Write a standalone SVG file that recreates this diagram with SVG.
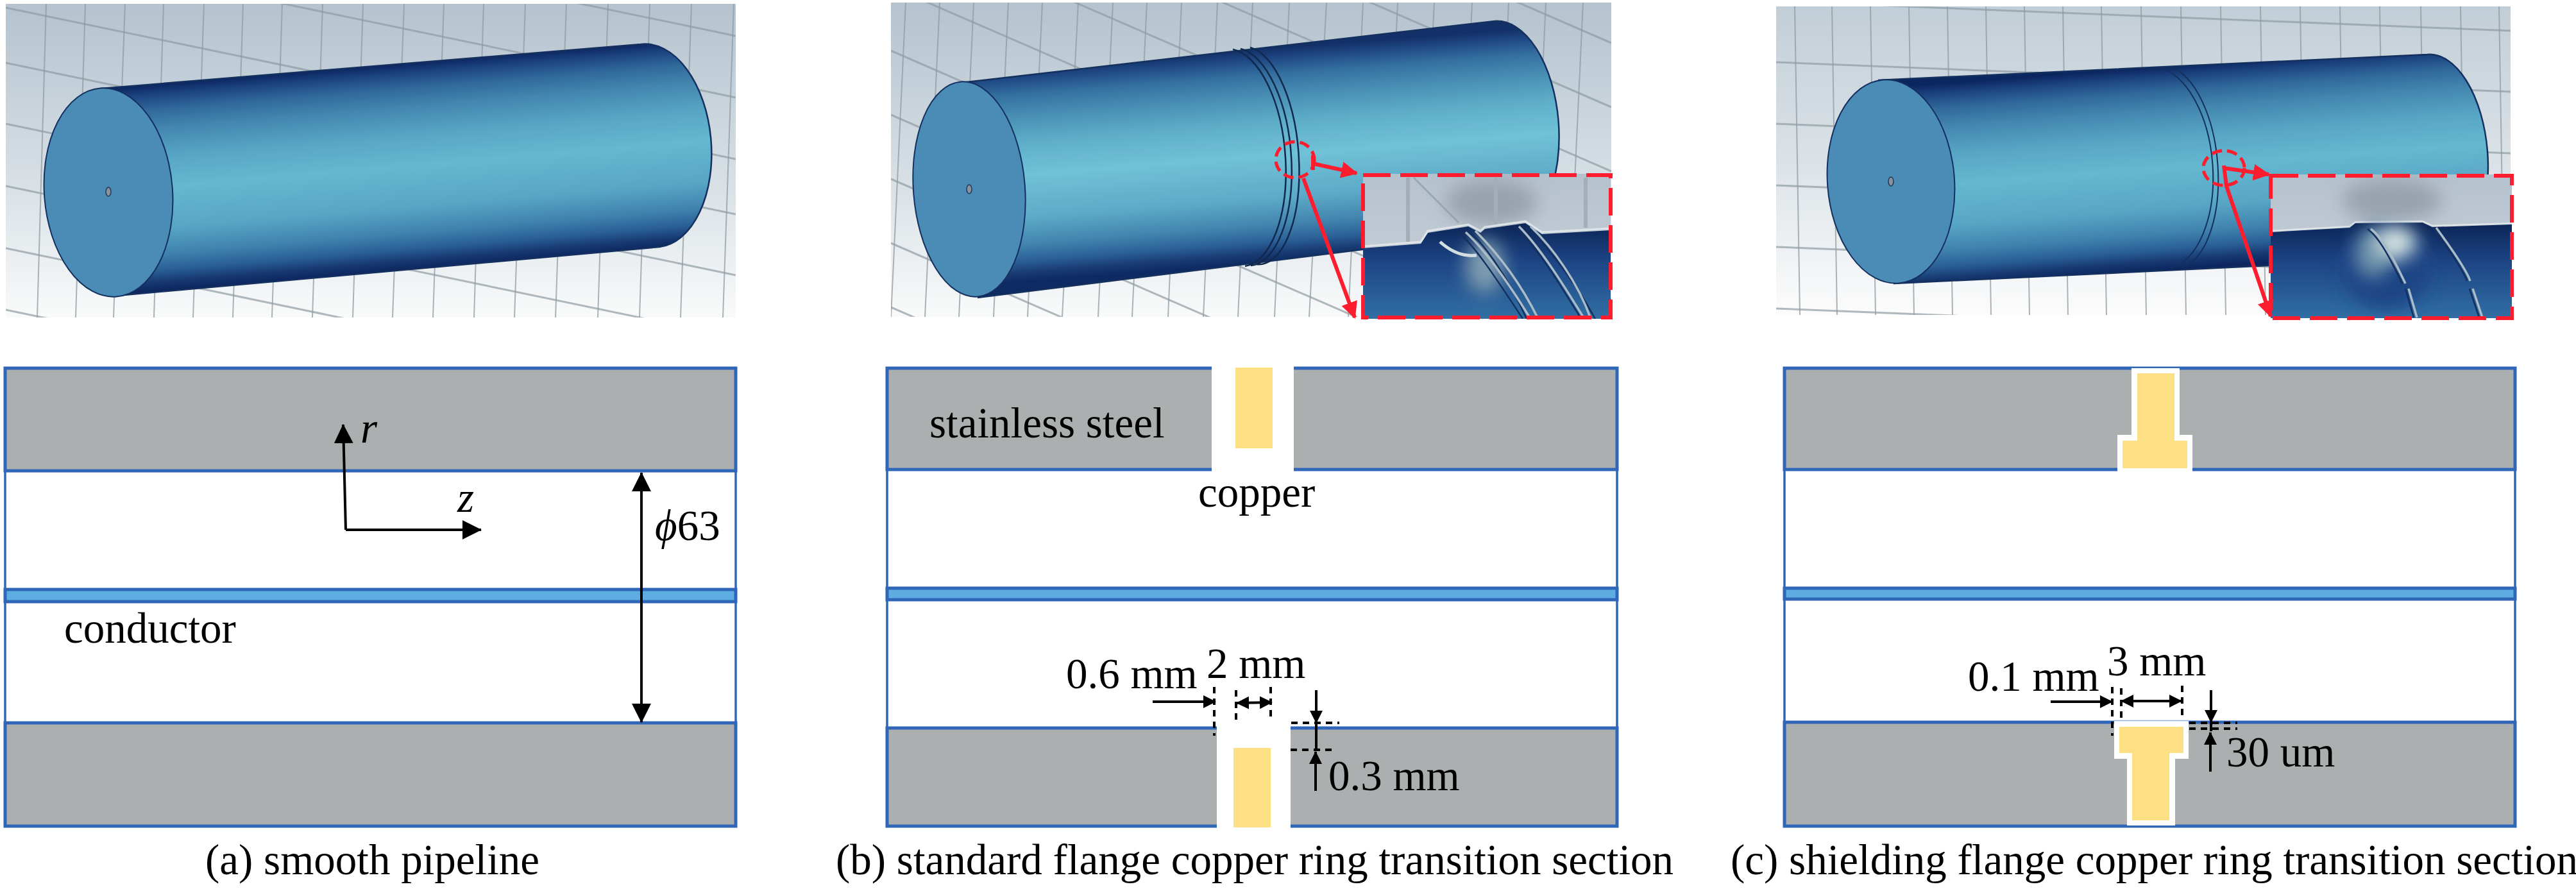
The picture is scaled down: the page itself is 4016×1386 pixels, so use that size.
<svg xmlns="http://www.w3.org/2000/svg" width="4016" height="1386" viewBox="0 0 4016 1386">
<style>
.t{font-family:"Liberation Serif","Times New Roman",serif;font-size:67px;fill:#000}
.i{font-style:italic}
.gv{fill:none;stroke:#8f9ba3;stroke-width:2;opacity:.75}
.gs{fill:none;stroke:#8f9ba3;stroke-width:3;opacity:.7}
.face{fill:#4a8cb6;stroke:#14305f;stroke-width:2}
.end{fill:none;stroke:#14305f;stroke-width:2}
.ring{fill:none;stroke:#12294f;stroke-width:2.5}
.hole{fill:#8a929a;stroke:#1f3a5f;stroke-width:1.5}
.rd{fill:none;stroke:#fd1d2e;stroke-width:6;stroke-dasharray:43 15}
.re{fill:none;stroke:#fd1d2e;stroke-width:5;stroke-dasharray:16 8}
.ra{fill:none;stroke:#fd1d2e;stroke-width:6}
.steel{fill:#abafb0;stroke:#2f66b8;stroke-width:5}
.vac{fill:#fff;stroke:#2f66b8;stroke-width:3.5}
.cond{fill:#5dade2;stroke:#2f66b8;stroke-width:5}
.gap{fill:#fff}
.cu{fill:#fce083}
.dim{fill:none;stroke:#000;stroke-width:4}
.dsh{fill:none;stroke:#000;stroke-width:4;stroke-dasharray:10 8}
.ln{fill:none;stroke:#000;stroke-width:4}
.sl{fill:none;stroke:#a9bcc8;stroke-width:3.5}
.sd{fill:none;stroke:#14305f;stroke-width:2.5}
</style>
<defs>
<marker id="ah" markerUnits="userSpaceOnUse" markerWidth="32" markerHeight="32" refX="29" refY="15" orient="auto-start-reverse"><path d="M0,0L30,15L0,30Z" fill="#000"/></marker>
<marker id="as" markerUnits="userSpaceOnUse" markerWidth="22" markerHeight="22" refX="19" refY="10" orient="auto-start-reverse"><path d="M0,0L20,10L0,20Z" fill="#000"/></marker>
<marker id="ar" markerUnits="userSpaceOnUse" markerWidth="28" markerHeight="28" refX="24" refY="13" orient="auto"><path d="M0,0L26,13L0,26Z" fill="#fd1d2e"/></marker>
<linearGradient id="bgA" x1="0" y1="0" x2="0" y2="1"><stop offset="0" stop-color="#b4c3cf"/><stop offset=".5" stop-color="#d3dce2"/><stop offset="1" stop-color="#f9fafa"/></linearGradient>
<linearGradient id="bgC" x1="0" y1="0" x2="0" y2="1"><stop offset="0" stop-color="#c2ced7"/><stop offset=".5" stop-color="#dbe2e7"/><stop offset="1" stop-color="#fcfcfc"/></linearGradient>
<linearGradient id="cylA" gradientUnits="userSpaceOnUse" x1="578" y1="103" x2="605" y2="423"><stop offset="0" stop-color="#0c2660"/><stop offset=".05" stop-color="#1c4480"/><stop offset=".12" stop-color="#30689a"/><stop offset=".22" stop-color="#4488b0"/><stop offset=".35" stop-color="#57a5c5"/><stop offset=".5" stop-color="#65b8d0"/><stop offset=".7" stop-color="#57a5c5"/><stop offset=".82" stop-color="#4083ae"/><stop offset=".9" stop-color="#2a5f96"/><stop offset=".96" stop-color="#16376f"/><stop offset="1" stop-color="#0e2660"/></linearGradient>
<linearGradient id="cylB" gradientUnits="userSpaceOnUse" x1="1914" y1="81" x2="1940" y2="412"><stop offset="0" stop-color="#143068"/><stop offset=".05" stop-color="#204a85"/><stop offset=".12" stop-color="#346f9f"/><stop offset=".22" stop-color="#488eb4"/><stop offset=".35" stop-color="#5eaec9"/><stop offset=".5" stop-color="#70c2d7"/><stop offset=".7" stop-color="#5caac8"/><stop offset=".82" stop-color="#4386af"/><stop offset=".9" stop-color="#2c6198"/><stop offset=".96" stop-color="#183a72"/><stop offset="1" stop-color="#0f2a63"/></linearGradient>
<linearGradient id="cylC" gradientUnits="userSpaceOnUse" x1="3356" y1="105" x2="3380" y2="420"><stop offset="0" stop-color="#0c2660"/><stop offset=".05" stop-color="#1c4480"/><stop offset=".12" stop-color="#30689a"/><stop offset=".22" stop-color="#4488b0"/><stop offset=".35" stop-color="#57a5c5"/><stop offset=".5" stop-color="#65b8d0"/><stop offset=".7" stop-color="#57a5c5"/><stop offset=".82" stop-color="#4083ae"/><stop offset=".9" stop-color="#2a5f96"/><stop offset=".96" stop-color="#16376f"/><stop offset="1" stop-color="#0e2660"/></linearGradient>
<linearGradient id="insT" x1="0" y1="0" x2="0" y2="1"><stop offset="0" stop-color="#b5c1cd"/><stop offset="1" stop-color="#cdd5dc"/></linearGradient>
<linearGradient id="insL" gradientUnits="userSpaceOnUse" x1="0" y1="350" x2="0" y2="495"><stop offset="0" stop-color="#0d2658"/><stop offset=".4" stop-color="#1d4585"/><stop offset="1" stop-color="#316ea3"/></linearGradient>
<clipPath id="cA"><rect x="9" y="6" width="1138" height="489"/></clipPath>
<clipPath id="cB"><rect x="1389" y="4" width="1123" height="490"/></clipPath>
<clipPath id="cC"><rect x="2769" y="10" width="1145" height="481"/></clipPath>
<clipPath id="iB"><rect x="2125" y="271" width="386" height="226"/></clipPath>
<clipPath id="iC"><rect x="3540" y="272" width="376" height="224"/></clipPath>
<filter id="b8" x="-30%" y="-30%" width="160%" height="160%"><feGaussianBlur stdDeviation="8"/></filter>
<filter id="b14" x="-40%" y="-40%" width="180%" height="180%"><feGaussianBlur stdDeviation="14"/></filter>
</defs>

<g id="model-a">
<rect x="9" y="6" width="1138" height="489" fill="url(#bgA)"/>
<g clip-path="url(#cA)">
<path class="gs" d="M9,-180L1147,56M9,-84L1147,152M9,12L1147,248M9,98L1147,334M9,193L1147,429M9,290L1147,526M9,387L1147,623M9,483L1147,719"/>
<path class="gv" d="M72,6L58,495M133,6L118,495M195,6L177,495M255,6L240,495M318,6L301,495M379,6L363,495M440,6L424,495M503,6L487,495M566,6L550,495M630,6L612,495M692,6L675,495M754,6L739,495M819,6L802,495M883,6L866,495M948,6L932,495M1013,6L997,495M1078,6L1061,495M1144,6L1127,495"/>
</g>
<path d="M157,138L999,69A95,158,-4.4,0,1,1028,385L182,461Z" fill="url(#cylA)"/>
<path class="sd" d="M157,138L999,69A95,158,-4.4,0,1,1028,385L182,461"/>
<ellipse class="face" cx="169" cy="300" rx="100" ry="163" transform="rotate(-4.4 169 300)"/>
<ellipse class="hole" cx="169" cy="299" rx="4" ry="7"/>
</g>

<g id="model-b">
<rect x="1389" y="4" width="1123" height="490" fill="url(#bgA)"/>
<g clip-path="url(#cB)">
<path class="gs" d="M1389,-421L2512,67M1389,-321L2512,167M1389,-221L2512,267M1389,-121L2512,367M1389,-21L2512,467M1389,79L2512,567M1389,179L2512,667M1389,279L2512,767M1389,379L2512,867M1389,479L2512,967"/>
<path class="gv" d="M1412,4L1389,494M1465,4L1442,494M1518,4L1495,494M1572,4L1549,494M1625,4L1602,494M1681,4L1656,494M1735,4L1712,494M1788,4L1765,494M1842,4L1821,494M1898,4L1876,494M1953,4L1930,494M2010,4L1987,494M2068,4L2041,494M2125,4L2102,494M2179,4L2156,494M2236,4L2213,494M2295,4L2272,494M2352,4L2329,494M2410,4L2387,494M2468,4L2445,494"/>
</g>
<path d="M1498,129L2330,33A87,164,-4.4,0,1,2356,360L1524,464Z" fill="url(#cylB)"/>
<path class="sd" d="M1498,129L2330,33A87,164,-4.4,0,1,2356,360L1524,464"/>
<ellipse class="face" cx="1511" cy="295" rx="87" ry="168" transform="rotate(-4.4 1511 295)"/>
<path class="ring" d="M1922,77A79,170,-4.4,0,1,1941,415M1934,76A77,170,-4.4,0,1,1950,414M1949,74A73,170,-4.4,0,1,1959,412"/>
<ellipse class="hole" cx="1511" cy="295" rx="4" ry="7"/>
<g id="inset-b" clip-path="url(#iB)">
<rect x="2125" y="271" width="386" height="226" fill="url(#insT)"/>
<ellipse cx="2325" cy="315" rx="72" ry="36" fill="#98a3ae" filter="url(#b14)"/>
<path d="M2195,277V377M2332,277V350M2472,277V355" fill="none" stroke="#a5aeb7" stroke-width="6"/>
<path class="gs" d="M2204,277L2274,347"/>
<path d="M2125,387L2215,380L2226,363L2289,353L2308,363L2315,357L2378,348L2404,365L2511,359V497H2125Z" fill="url(#insL)"/>
<path d="M2125,384L2215,377L2226,360L2289,350L2308,360L2315,354L2378,345L2404,362L2511,356" fill="none" stroke="#dfe4e8" stroke-width="3"/>
<ellipse cx="2315" cy="415" rx="30" ry="42" fill="#7f9db0" filter="url(#b14)"/>
<path d="M2245,377C2265,395 2285,400 2302,398" fill="none" stroke="#d3dee0" stroke-width="5"/>
<path class="sd" d="M2275,363C2300,385 2330,430 2374,497M2290,362C2310,375 2350,430 2380,497M2360,353C2390,375 2430,440 2465,497M2378,353C2405,375 2450,430 2487,497"/>
<path class="sl" d="M2285,362C2310,385 2345,430 2386,497M2300,360C2325,385 2365,430 2398,497M2368,353C2400,385 2435,440 2470,497M2386,353C2420,385 2460,440 2480,497"/>
</g>
<rect class="rd" x="2125" y="273" width="386" height="222"/>
<ellipse class="re" cx="2019" cy="249" rx="30" ry="28"/>
<path class="ra" d="M2047,242V265M2047,255L2115,270" marker-end="url(#ar)"/>
<path class="ra" d="M2032,278L2112,495" marker-end="url(#ar)"/>
</g>

<g id="model-c">
<rect x="2769" y="10" width="1145" height="481" fill="url(#bgC)"/>
<g clip-path="url(#cC)">
<path class="gs" d="M2769,2L3914,48M2769,97L3914,143M2769,193L3914,239M2769,289L3914,335M2769,385L3914,431M2769,481L3914,527"/>
<path class="gv" d="M2798,10L2806,491M2856,10L2864,491M2916,10L2924,491M2976,10L2984,491M3036,10L3044,491M3096,10L3104,491M3156,10L3164,491M3216,10L3224,491M3276,10L3284,491M3338,10L3346,491M3400,10L3408,491M3462,10L3470,491M3524,10L3532,491M3586,10L3594,491M3648,10L3656,491M3710,10L3718,491M3774,10L3782,491M3836,10L3844,491M3896,10L3904,491"/>
</g>
<path d="M2928,125L3784,85A81,158,-4.4,0,1,3810,401L2952,442Z" fill="url(#cylC)"/>
<path class="sd" d="M2928,125L3784,85A81,158,-4.4,0,1,3810,401L2952,442"/>
<ellipse class="face" cx="2948" cy="283" rx="99" ry="159" transform="rotate(-4.4 2948 283)"/>
<path class="end" d="M3364,105A86,158,-4.4,0,1,3384,418M3384,105A76,158,-4.4,0,1,3404,416"/>
<ellipse class="hole" cx="2948" cy="283" rx="4" ry="7"/>
<g id="inset-c" clip-path="url(#iC)">
<rect x="3540" y="272" width="376" height="224" fill="url(#insT)"/>
<ellipse cx="3729" cy="312" rx="78" ry="34" fill="#98a3ae" filter="url(#b14)"/>
<path d="M3540,362L3663,355L3672,348L3777,347L3792,354L3916,350V496H3540Z" fill="url(#insL)"/>
<path d="M3540,360L3663,353L3672,346L3777,345L3792,352L3916,348" fill="none" stroke="#dfe4e8" stroke-width="2.5"/>
<ellipse cx="3720" cy="420" rx="68" ry="62" fill="#1c4585" filter="url(#b14)"/>
<ellipse cx="3700" cy="395" rx="28" ry="38" fill="#6f93aa" filter="url(#b14)"/>
<ellipse cx="3735" cy="378" rx="32" ry="26" fill="#d2e2e0" filter="url(#b14)"/>
<path class="sd" d="M3691,357C3712,372 3732,415 3745,442M3750,450L3763,495M3793,355C3815,385 3840,420 3846,438M3850,450L3865,495"/>
<path class="sl" d="M3696,357C3717,372 3737,415 3750,442M3755,450L3768,495M3798,355C3820,385 3845,420 3851,438M3855,450L3870,495"/>
</g>
<rect class="rd" x="3540" y="274" width="376" height="222"/>
<ellipse class="re" cx="3467" cy="262" rx="32" ry="27"/>
<path class="ra" d="M3467,262L3537,272" marker-end="url(#ar)"/>
<path class="ra" d="M3467,258L3471,290L3540,493" marker-end="url(#ar)"/>
</g>

<g id="section-a">
<rect class="vac" x="8" y="574" width="1139" height="714"/>
<rect class="steel" x="8" y="574" width="1139" height="160"/>
<rect class="steel" x="8" y="1127" width="1139" height="161"/>
<rect class="cond" x="8" y="919" width="1139" height="19"/>
</g>
<g id="section-b">
<rect class="vac" x="1383" y="574" width="1138" height="714"/>
<rect class="steel" x="1383" y="574" width="1138" height="158"/>
<rect class="steel" x="1383" y="1135" width="1138" height="153"/>
<rect class="cond" x="1383" y="917" width="1138" height="18"/>
<rect class="gap" x="1889" y="568" width="128" height="168"/>
<rect class="gap" x="1897" y="1130" width="115" height="162"/>
<rect class="cu" x="1926" y="573" width="58" height="126"/>
<rect class="cu" x="1923" y="1166" width="58" height="124"/>
</g>
<g id="section-c">
<rect class="vac" x="2782" y="574" width="1139" height="714"/>
<rect class="steel" x="2782" y="574" width="1139" height="158"/>
<rect class="steel" x="2782" y="1126" width="1139" height="162"/>
<rect class="cond" x="2782" y="917" width="1139" height="17"/>
<path class="gap" d="M3323,574H3398V678H3418V736H3301V678H3323Z"/>
<path class="cu" d="M3332,582H3390V687H3410V730H3309V687H3332Z"/>
<path class="gap" d="M3296,1123H3412V1183H3391V1287H3316V1183H3296Z"/>
<path d="M3296,1123.5H3412" fill="none" stroke="#8fb0dd" stroke-width="1.5"/>
<path class="cu" d="M3304,1133H3404V1174H3382V1279H3324V1174H3304Z"/>
</g>

<g id="connectors">
<path class="dim" d="M539,826L535,662" marker-end="url(#ah)"/>
<path class="dim" d="M539,826H750" marker-end="url(#ah)"/>
<path class="dim" d="M1000,737V1126" marker-start="url(#ah)" marker-end="url(#ah)"/>

<path class="dsh" d="M1893,1071V1147M1927,1076V1127M1981,1071V1125M2013,1127H2088M2012,1169H2083"/>
<path class="dim" d="M1797,1094H1895" marker-end="url(#as)"/>
<path class="dim" d="M1928,1096L1983,1095" marker-start="url(#as)" marker-end="url(#as)"/>
<path class="dim" d="M2052,1076V1127" marker-end="url(#as)"/>
<path class="ln" d="M2052,1127V1169"/>
<path class="dim" d="M2051,1233V1172" marker-end="url(#as)"/>

<path class="dsh" d="M3293,1071V1147M3307,1073V1123M3402,1069V1123M3413,1127H3488M3413,1136H3488"/>
<path class="dim" d="M3197,1094H3293" marker-end="url(#as)"/>
<path class="dim" d="M3307,1093H3401" marker-start="url(#as)" marker-end="url(#as)"/>
<path class="dim" d="M3447,1076V1126" marker-end="url(#as)"/>
<path class="ln" d="M3447,1126V1140"/>
<path class="dim" d="M3446,1203V1142" marker-end="url(#as)"/>
</g>

<g id="labels">
<text class="t i" x="562" y="690">r</text>
<text class="t i" x="713" y="798">z</text>
<text class="t" x="1021" y="842"><tspan class="i">ϕ</tspan>63</text>
<text class="t" x="100" y="1002">conductor</text>
<text class="t" x="1449" y="682">stainless steel</text>
<text class="t" x="1868" y="790">copper</text>
<text class="t" x="1662" y="1073">0.6 mm</text>
<text class="t" x="1881" y="1057">2 mm</text>
<text class="t" x="2071" y="1232">0.3 mm</text>
<text class="t" x="3068" y="1077">0.1 mm</text>
<text class="t" x="3285" y="1053">3 mm</text>
<text class="t" x="3471" y="1195">30 um</text>
<text class="t" x="320" y="1363">(a) smooth pipeline</text>
<text class="t" x="1303" y="1363">(b) standard flange copper ring transition section</text>
<text class="t" x="2698" y="1363">(c) shielding flange copper ring transition section</text>
</g>
</svg>
